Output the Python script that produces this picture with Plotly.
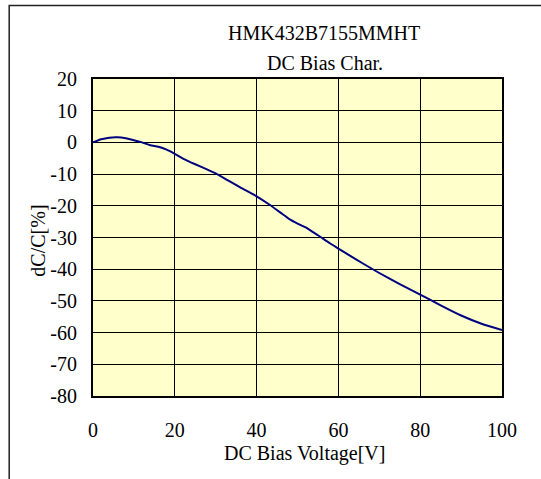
import plotly.graph_objects as go

# DC bias voltage [V]
voltage = [0, 2, 4, 6, 8, 10, 12, 14, 16, 18, 20, 22, 25, 28, 30, 33, 36, 40, 43, 46,
           48, 50, 52, 55, 58, 60, 63, 66, 70, 75, 80, 85, 90, 95, 100]
# capacitance change dC/C [%]
dcc = [0, 1.0, 1.5, 1.6, 1.3, 0.7, 0.0, -0.9, -1.4, -2.3, -3.6, -5.1, -6.9, -8.6, -9.8,
       -12.0, -14.2, -17.0, -19.5, -22.3, -24.2, -25.6, -26.8, -29.3, -31.9, -33.5,
       -35.9, -38.2, -41.2, -44.7, -48.0, -51.4, -54.6, -57.2, -59.2]

x_ticks = [0, 20, 40, 60, 80, 100]
y_ticks = [20, 10, 0, -10, -20, -30, -40, -50, -60, -70, -80]

W, H = 541, 479
# plot area in screen pixels: left 92.5, right 502.5, top 79, bottom 396
L = 92.5
T = 79
R = W - 502.5
B = H - 396
PW, PH = W - L - R, H - T - B


def px(x):
    return (x - L) / PW


def py(y):
    return (H - B - y) / PH


FONT = "Liberation Serif, Times New Roman, serif"

fig = go.Figure()
fig.add_trace(go.Scatter(x=voltage, y=dcc, mode="lines",
                         line=dict(color="#000080", width=2, shape="spline", smoothing=0.6),
                         showlegend=False, hoverinfo="skip"))

fig.update_layout(
    width=W, height=H,
    margin=dict(l=L, r=R, t=T, b=B, pad=0),
    paper_bgcolor="white",
    plot_bgcolor="#FFFFCC",
    font=dict(family=FONT, size=20, color="black"),
    showlegend=False,
)
fig.update_xaxes(range=[0, 100], tickvals=x_ticks, ticktext=[str(v) for v in x_ticks],
                 showgrid=True, gridcolor="black", gridwidth=1,
                 showline=True, linecolor="black", linewidth=2, mirror=True,
                 zeroline=False, ticks="", ticklabelstandoff=15,
                 tickfont=dict(family=FONT, size=20, color="black"))
fig.update_yaxes(range=[-80, 20], tickvals=y_ticks, ticktext=[str(v) for v in y_ticks],
                 showgrid=True, gridcolor="black", gridwidth=1,
                 showline=True, linecolor="black", linewidth=2, mirror=True,
                 zeroline=False, ticks="", ticklabelstandoff=10,
                 tickfont=dict(family=FONT, size=20, color="black"))

annotations = [
    dict(text="HMK432B7155MMHT", x=px(324), y=py(33)),
    dict(text="DC Bias Char.", x=px(325), y=py(63)),
    dict(text="DC Bias Voltage[V]", x=px(305), y=py(453)),
    dict(text="dC/C[%]", x=px(37), y=py(241), textangle=-90),
]
for a in annotations:
    fig.add_annotation(xref="paper", yref="paper", showarrow=False,
                       xanchor="center", yanchor="middle",
                       font=dict(family=FONT, size=20, color="black"), **a)

# outer chart frame
fig.add_shape(type="rect", xref="paper", yref="paper",
              x0=px(8.5), x1=px(560), y0=py(500), y1=py(5.5),
              line=dict(color="#222222", width=1.5), fillcolor="rgba(0,0,0,0)", layer="above")

fig.write_html("out.html", config={"displayModeBar": False},
               post_script="document.body.style.margin='0';document.body.style.overflow='hidden';")
